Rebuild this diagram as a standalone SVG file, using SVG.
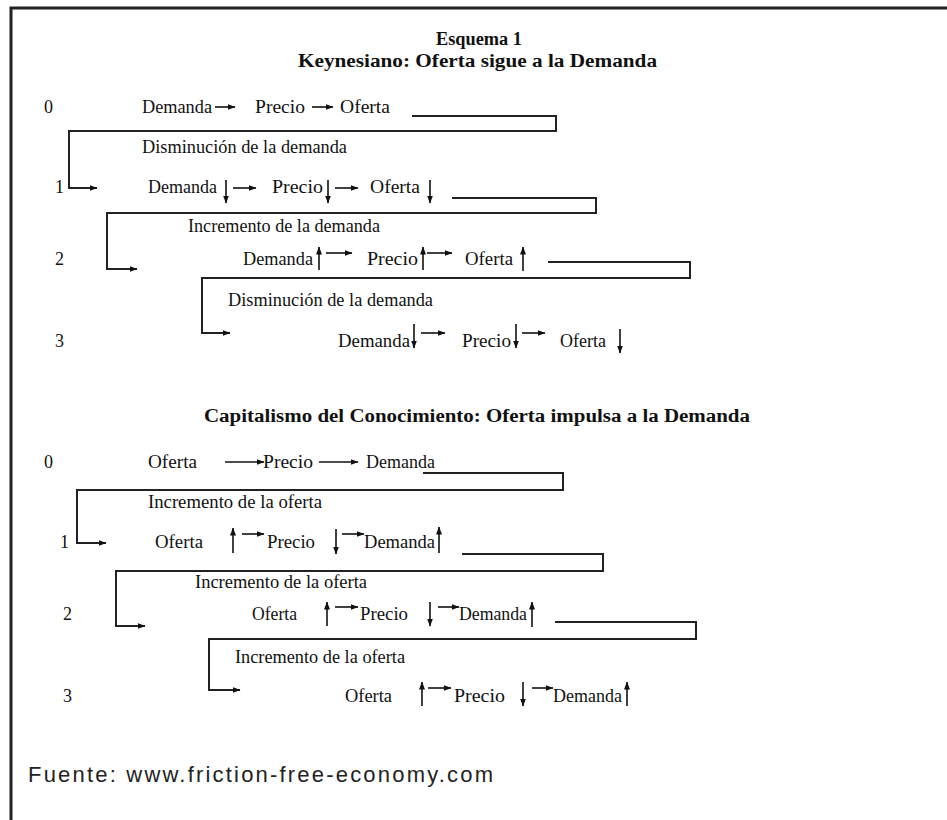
<svg xmlns="http://www.w3.org/2000/svg" width="947" height="820" viewBox="0 0 947 820">
<defs>
<marker id="ah" viewBox="0 0 8 8" refX="7.5" refY="4" markerWidth="8" markerHeight="8" markerUnits="userSpaceOnUse" orient="auto"><path d="M0,1 L8,4 L0,7 z" fill="#111"/></marker>
<style>
.t{font-family:"Liberation Serif","Times New Roman",serif;font-size:18px;fill:#111}
.b{font-weight:bold}
.f{font-family:"Liberation Sans",Arial,sans-serif;font-size:22px;fill:#222}
.c{fill:none;stroke:#222;stroke-width:2}
.a{fill:none;stroke:#111;stroke-width:1.6;marker-end:url(#ah)}
</style>
</defs>
<rect width="947" height="820" fill="#fff"/>
<g id="frame"><path d="M11,820 V8 H947" fill="none" stroke="#222" stroke-width="3"/></g>

<g id="titles">
<text class="t b" x="436" y="45" textLength="86" lengthAdjust="spacingAndGlyphs">Esquema 1</text>
<text class="t b" x="298" y="67" textLength="359" lengthAdjust="spacingAndGlyphs">Keynesiano: Oferta sigue a la Demanda</text>
<text class="t b" x="204" y="422" textLength="546" lengthAdjust="spacingAndGlyphs">Capitalismo del Conocimiento: Oferta impulsa a la Demanda</text>
</g>

<g id="s1-row0">
<text class="t" x="44" y="113">0</text>
<text class="t" x="142" y="113" textLength="70" lengthAdjust="spacingAndGlyphs">Demanda</text>
<text class="t" x="255" y="113" textLength="50" lengthAdjust="spacingAndGlyphs">Precio</text>
<text class="t" x="340" y="113" textLength="50" lengthAdjust="spacingAndGlyphs">Oferta</text>
</g>
<g id="s1-label1"><text class="t" x="142" y="153" textLength="205" lengthAdjust="spacingAndGlyphs">Disminución de la demanda</text></g>
<g id="s1-row1">
<text class="t" x="55" y="193">1</text>
<text class="t" x="148" y="193" textLength="69" lengthAdjust="spacingAndGlyphs">Demanda</text>
<text class="t" x="272" y="193" textLength="51" lengthAdjust="spacingAndGlyphs">Precio</text>
<text class="t" x="370" y="193" textLength="50" lengthAdjust="spacingAndGlyphs">Oferta</text>
</g>
<g id="s1-label2"><text class="t" x="188" y="232" textLength="192" lengthAdjust="spacingAndGlyphs">Incremento de la demanda</text></g>
<g id="s1-row2">
<text class="t" x="55" y="265">2</text>
<text class="t" x="243" y="265" textLength="70" lengthAdjust="spacingAndGlyphs">Demanda</text>
<text class="t" x="367" y="265" textLength="51" lengthAdjust="spacingAndGlyphs">Precio</text>
<text class="t" x="465" y="265" textLength="48" lengthAdjust="spacingAndGlyphs">Oferta</text>
</g>
<g id="s1-label3"><text class="t" x="228" y="306" textLength="205" lengthAdjust="spacingAndGlyphs">Disminución de la demanda</text></g>
<g id="s1-row3">
<text class="t" x="55" y="347">3</text>
<text class="t" x="338" y="347" textLength="72" lengthAdjust="spacingAndGlyphs">Demanda</text>
<text class="t" x="462" y="347" textLength="49" lengthAdjust="spacingAndGlyphs">Precio</text>
<text class="t" x="560" y="347" textLength="46" lengthAdjust="spacingAndGlyphs">Oferta</text>
</g>

<g id="s2-row0">
<text class="t" x="44" y="468">0</text>
<text class="t" x="148" y="468" textLength="49" lengthAdjust="spacingAndGlyphs">Oferta</text>
<text class="t" x="263" y="468" textLength="50" lengthAdjust="spacingAndGlyphs">Precio</text>
<text class="t" x="366" y="468" textLength="69" lengthAdjust="spacingAndGlyphs">Demanda</text>
</g>
<g id="s2-label1"><text class="t" x="148" y="508" textLength="174" lengthAdjust="spacingAndGlyphs">Incremento de la oferta</text></g>
<g id="s2-row1">
<text class="t" x="60" y="548">1</text>
<text class="t" x="155" y="548" textLength="48" lengthAdjust="spacingAndGlyphs">Oferta</text>
<text class="t" x="267" y="548" textLength="48" lengthAdjust="spacingAndGlyphs">Precio</text>
<text class="t" x="364" y="548" textLength="71" lengthAdjust="spacingAndGlyphs">Demanda</text>
</g>
<g id="s2-label2"><text class="t" x="195" y="588" textLength="172" lengthAdjust="spacingAndGlyphs">Incremento de la oferta</text></g>
<g id="s2-row2">
<text class="t" x="63" y="620">2</text>
<text class="t" x="252" y="620" textLength="45" lengthAdjust="spacingAndGlyphs">Oferta</text>
<text class="t" x="360" y="620" textLength="48" lengthAdjust="spacingAndGlyphs">Precio</text>
<text class="t" x="459" y="620" textLength="68" lengthAdjust="spacingAndGlyphs">Demanda</text>
</g>
<g id="s2-label3"><text class="t" x="235" y="663" textLength="170" lengthAdjust="spacingAndGlyphs">Incremento de la oferta</text></g>
<g id="s2-row3">
<text class="t" x="63" y="702">3</text>
<text class="t" x="345" y="702" textLength="47" lengthAdjust="spacingAndGlyphs">Oferta</text>
<text class="t" x="454" y="702" textLength="51" lengthAdjust="spacingAndGlyphs">Precio</text>
<text class="t" x="553" y="702" textLength="69" lengthAdjust="spacingAndGlyphs">Demanda</text>
</g>

<g id="footer"><text class="f" x="28" y="782" textLength="465" lengthAdjust="spacing">Fuente: www.friction-free-economy.com</text></g>

<g id="connectors">
<polyline class="c" points="412,116 556,116 556,131 69,131 69,188 97,188" marker-end="url(#ah)"/>
<polyline class="c" points="452,198 596,198 596,213 107,213 107,269 137,269" marker-end="url(#ah)"/>
<polyline class="c" points="548,262 690,262 690,278 202,278 202,333 230,333" marker-end="url(#ah)"/>
<line class="a" x1="215" y1="107" x2="235" y2="107"/>
<line class="a" x1="312" y1="107" x2="333" y2="107"/>
<line class="a" x1="226" y1="180" x2="226" y2="203"/>
<line class="a" x1="233" y1="188" x2="256" y2="188"/>
<line class="a" x1="328" y1="180" x2="328" y2="203"/>
<line class="a" x1="335" y1="188" x2="358" y2="188"/>
<line class="a" x1="430" y1="180" x2="430" y2="203"/>
<line class="a" x1="319" y1="270" x2="319" y2="247"/>
<line class="a" x1="326" y1="253" x2="352" y2="253"/>
<line class="a" x1="423" y1="270" x2="423" y2="247"/>
<line class="a" x1="427" y1="253" x2="452" y2="253"/>
<line class="a" x1="523" y1="271" x2="523" y2="247"/>
<line class="a" x1="414" y1="324" x2="414" y2="348"/>
<line class="a" x1="421" y1="333" x2="445" y2="333"/>
<line class="a" x1="516" y1="324" x2="516" y2="348"/>
<line class="a" x1="522" y1="333" x2="545" y2="333"/>
<line class="a" x1="620" y1="329" x2="620" y2="353"/>
<polyline class="c" points="423,473 563,473 563,490 77,490 77,543 106,543" marker-end="url(#ah)"/>
<polyline class="c" points="462,554 603,554 603,571 116,571 116,626 145,626" marker-end="url(#ah)"/>
<polyline class="c" points="555,622 696,622 696,639 209,639 209,690 240,690" marker-end="url(#ah)"/>
<line class="a" x1="225" y1="462" x2="264" y2="462"/>
<line class="a" x1="319" y1="462" x2="358" y2="462"/>
<line class="a" x1="233" y1="553" x2="233" y2="528"/>
<line class="a" x1="242" y1="534" x2="264" y2="534"/>
<line class="a" x1="336" y1="529" x2="336" y2="554"/>
<line class="a" x1="342" y1="534" x2="364" y2="534"/>
<line class="a" x1="439" y1="553" x2="439" y2="527"/>
<line class="a" x1="327" y1="626" x2="327" y2="602"/>
<line class="a" x1="335" y1="607" x2="358" y2="607"/>
<line class="a" x1="430" y1="602" x2="430" y2="626"/>
<line class="a" x1="438" y1="607" x2="459" y2="607"/>
<line class="a" x1="532" y1="627" x2="532" y2="602"/>
<line class="a" x1="422" y1="706" x2="422" y2="682"/>
<line class="a" x1="428" y1="688" x2="451" y2="688"/>
<line class="a" x1="523" y1="682" x2="523" y2="706"/>
<line class="a" x1="532" y1="688" x2="553" y2="688"/>
<line class="a" x1="627" y1="706" x2="627" y2="682"/>
</g>
</svg>
